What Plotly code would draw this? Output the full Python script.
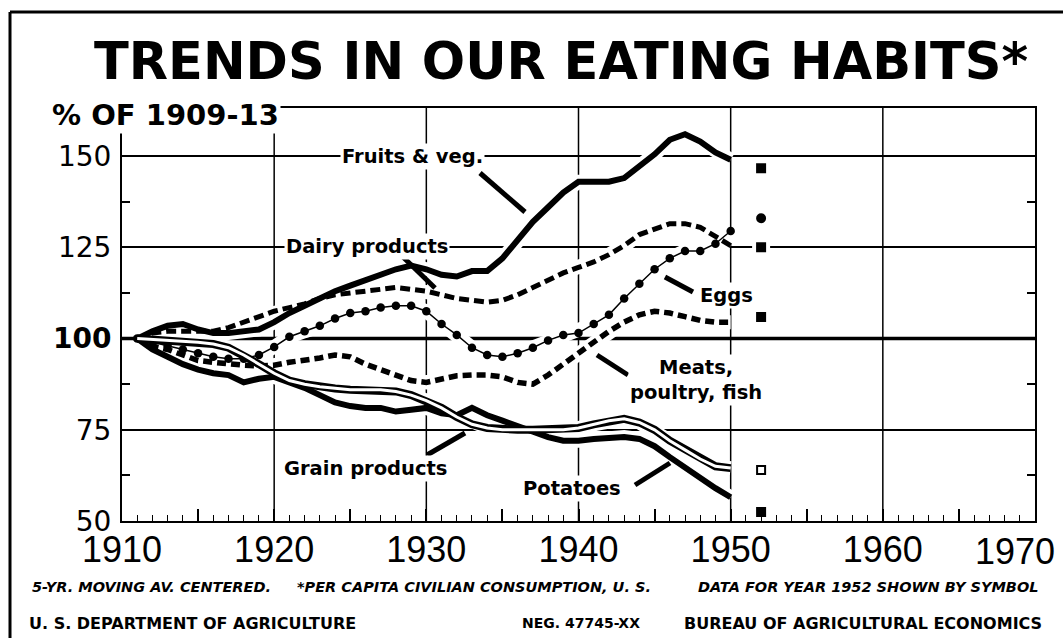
import plotly.graph_objects as go

years = list(range(1911, 1951))

fruits_veg = [100, 102, 103.5, 104, 102.5, 101.5, 101.5, 102, 102.5, 104.5,
              107, 109, 111, 113, 114.5, 116, 117.5, 119, 120, 119,
              117.5, 117, 118.5, 118.5, 122, 127, 132, 136, 140, 143,
              143, 143, 144, 147, 150.5, 154.5, 156, 154, 151, 149]

dairy = [100, 101.5, 102, 102, 102, 102, 103, 104.5, 106, 107.5,
         108.5, 109.5, 111, 112, 112.5, 113, 113.5, 114, 113.5, 113,
         112, 111, 110.5, 110, 110.5, 112, 114, 116, 118, 119.5,
         121, 123, 125.5, 128.5, 130, 131.5, 131.5, 130.5, 128, 125.5]

eggs = [100, 99, 98, 97, 96, 95, 94.5, 94.5, 95.5, 97.7,
        100.5, 102, 103.5, 105.5, 107, 107.5, 108.5, 109, 109, 107.5,
        104, 101, 97.5, 95.5, 95, 96, 97.5, 99.5, 101, 101.5,
        104, 106.5, 111, 115, 119, 122, 124, 124, 126, 129.5]

meats = [100, 98, 97, 95.5, 94, 93.5, 93, 92.7, 92.5, 92.7,
         93.5, 94, 94.7, 95.5, 95, 93, 91.5, 90, 88.5, 88,
         89, 89.8, 90, 90, 89.5, 88, 87.5, 90, 93, 96,
         99, 102, 104.5, 106.5, 107.5, 107, 106, 105, 104.5, 104.5]

grain = [100, 99.8, 99.5, 99.2, 99, 98.5, 97.5, 95.5, 93, 90.5,
         88.5, 87.5, 86.8, 86.3, 86, 86, 86, 85.5, 84.5, 83,
         81, 78.5, 76.5, 75.5, 75, 75, 75, 75, 75, 75.5,
         76.5, 77.5, 78, 77, 75, 72, 69.5, 67, 65, 64.5]

potatoes = [100, 97, 95, 93, 91.5, 90.5, 90, 88, 89, 89.5,
            88, 86.5, 84.5, 82.5, 81.5, 81, 81, 80, 80.5, 81,
            79.5, 79, 81, 79, 77.5, 76, 74.5, 73, 72, 72,
            72.5, 72.7, 73, 72.5, 70.5, 67.5, 64.5, 61.5, 59, 56.5]

# 1952 values shown by symbol
sym_year = 1952
sym_values = [146.7, 133, 125, 105.9, 64, 52.5]
sym_shapes = ["square", "circle", "square", "square", "square-open", "square"]

x_ticks = list(range(1910, 1971, 5))
x_ticktext = [str(v) if (v % 10 == 0 and v < 1970) else "" for v in x_ticks]
y_ticks = [50, 75, 100, 125, 150]
y_ticktext = ["50", "75", "<b>100</b>", "125", "150"]
decades = [1920, 1930, 1940, 1950, 1960]

# plot area in pixels
L, R, T, B = 122, 1035, 108, 521


def px(x):
    return (x - L) / (R - L)


def py(y):
    return (B - y) / (B - T)


fig = go.Figure()

series = [fruits_veg, dairy, eggs, meats, grain, potatoes]
# white halos that break the grid where curves cross
for s in series:
    fig.add_trace(go.Scatter(x=years, y=s, mode="lines",
                             line=dict(color="white", width=14),
                             hoverinfo="skip"))
fig.add_trace(go.Scatter(x=[sym_year] * len(sym_values), y=sym_values,
                         mode="markers",
                         marker=dict(color="white", size=18, symbol="square"),
                         hoverinfo="skip"))

fig.add_trace(go.Scatter(x=years, y=fruits_veg, mode="lines", name="Fruits & veg.",
                         line=dict(color="black", width=6)))
fig.add_trace(go.Scatter(x=years, y=dairy, mode="lines", name="Dairy products",
                         line=dict(color="black", width=5, dash="10px,5px")))
fig.add_trace(go.Scatter(x=years, y=meats, mode="lines", name="Meats, poultry, fish",
                         line=dict(color="black", width=5.5, dash="9px,5px")))
fig.add_trace(go.Scatter(x=years, y=eggs, mode="lines+markers", name="Eggs",
                         line=dict(color="black", width=1.5),
                         marker=dict(color="black", size=8.5, symbol="circle")))
fig.add_trace(go.Scatter(x=years, y=potatoes, mode="lines", name="Potatoes",
                         line=dict(color="black", width=6)))
fig.add_trace(go.Scatter(x=years, y=grain, mode="lines", name="Grain products",
                         line=dict(color="black", width=8)))
fig.add_trace(go.Scatter(x=years, y=grain, mode="lines", name="Grain products",
                         line=dict(color="white", width=3), hoverinfo="skip"))
fig.add_trace(go.Scatter(x=[sym_year] * len(sym_values), y=sym_values,
                         mode="markers",
                         marker=dict(color="black", size=8, symbol=sym_shapes,
                                     line=dict(color="black", width=2))))

shapes = []
for d in decades:
    shapes.append(dict(type="line", xref="x", yref="paper", x0=d, x1=d, y0=0, y1=1,
                       line=dict(color="black", width=1.5), layer="below"))
shapes.append(dict(type="line", xref="paper", yref="y", x0=0, x1=1, y0=100, y1=100,
                   line=dict(color="black", width=3.5), layer="below"))

# label pointers (pixel positions)
pointers = [((480, 173), (525, 212)), ((403, 257), (435, 288)),
            ((665, 277), (693, 292)), ((597, 355), (628, 375)),
            ((427, 455), (465, 433)), ((635, 485), (670, 463))]
for (a, b) in pointers:
    shapes.append(dict(type="line", xref="paper", yref="paper",
                       x0=px(a[0]), y0=py(a[1]), x1=px(b[0]), y1=py(b[1]),
                       line=dict(color="black", width=5)))

# frame of the sheet
shapes.append(dict(type="line", xref="paper", yref="paper",
                   x0=px(10), x1=px(10), y0=py(12), y1=py(638),
                   line=dict(color="black", width=3)))
shapes.append(dict(type="line", xref="paper", yref="paper",
                   x0=px(10), x1=px(1063), y0=py(12), y1=py(12),
                   line=dict(color="black", width=3)))

LABEL_FONT = dict(family="DejaVu Sans", size=19.5, color="black")
NOTE_FONT = dict(family="DejaVu Sans", size=14.5, color="black")
annotations = [
    dict(text="<b>TRENDS IN OUR EATING HABITS*</b>", x=px(561), y=py(62),
         font=dict(family="DejaVu Sans", size=51, color="black")),
    dict(text="<b>% OF 1909-13</b>", x=px(50), y=py(115), xanchor="left",
         bgcolor="white", font=dict(family="DejaVu Sans", size=29, color="black")),
    dict(text="1970", x=px(1015), y=py(551),
         font=dict(family="Liberation Sans", size=36, color="black")),
    dict(text="<b>Fruits & veg.</b>", x=px(412), y=py(156), bgcolor="white", font=LABEL_FONT),
    dict(text="<b>Dairy products</b>", x=px(367), y=py(247), bgcolor="white", font=LABEL_FONT),
    dict(text="<b>Eggs</b>", x=px(726), y=py(295), bgcolor="white", font=LABEL_FONT),
    dict(text="<b>Meats,<br>poultry, fish</b>", x=px(696), y=py(380), bgcolor="white",
         font=LABEL_FONT),
    dict(text="<b>Grain products</b>", x=px(365), y=py(468), bgcolor="white", font=LABEL_FONT),
    dict(text="<b>Potatoes</b>", x=px(572), y=py(488), bgcolor="white", font=LABEL_FONT),
    dict(text="<b><i>5-YR. MOVING AV. CENTERED.</i></b>", x=px(30), y=py(587),
         xanchor="left", font=NOTE_FONT),
    dict(text="<b><i>*PER CAPITA CIVILIAN CONSUMPTION, U. S.</i></b>", x=px(295), y=py(587),
         xanchor="left", font=NOTE_FONT),
    dict(text="<b><i>DATA FOR YEAR 1952 SHOWN BY SYMBOL</i></b>", x=px(1040), y=py(587),
         xanchor="right", font=NOTE_FONT),
    dict(text="<b>U. S. DEPARTMENT OF AGRICULTURE</b>", x=px(27), y=py(623),
         xanchor="left", font=dict(family="DejaVu Sans", size=16, color="black")),
    dict(text="<b>NEG. 47745-XX</b>", x=px(520), y=py(623),
         xanchor="left", font=dict(family="DejaVu Sans", size=14, color="black")),
    dict(text="<b>BUREAU OF AGRICULTURAL ECONOMICS</b>", x=px(1044), y=py(623),
         xanchor="right", font=dict(family="DejaVu Sans", size=16, color="black")),
]
for a in annotations:
    a.update(xref="paper", yref="paper", showarrow=False)
    a.setdefault("xanchor", "center")
    a.setdefault("yanchor", "middle")
    a.setdefault("borderpad", 1)

fig.update_layout(
    width=1063, height=638,
    margin=dict(l=L, r=1063 - R, t=T, b=638 - B),
    paper_bgcolor="white", plot_bgcolor="white",
    showlegend=False,
    shapes=shapes, annotations=annotations,
    xaxis=dict(range=[1910, 1970], tickvals=x_ticks, ticktext=x_ticktext,
               ticks="inside", ticklen=12, tickwidth=1.5, tickcolor="black",
               minor=dict(dtick=1, tick0=1910, ticks="inside", ticklen=6,
                          tickwidth=1.2, tickcolor="black", showgrid=False),
               showgrid=False, zeroline=False,
               showline=True, linewidth=2, linecolor="black", mirror=True,
               tickfont=dict(family="Liberation Sans", size=36, color="black"),
               ticklabelstandoff=-4),
    yaxis=dict(range=[50, 163.2], tickvals=y_ticks, ticktext=y_ticktext,
               ticks="inside", ticklen=8, tickwidth=1.5, tickcolor="black",
               minor=dict(tickvals=[62.5, 87.5, 112.5, 137.5], ticks="inside",
                          ticklen=8, tickwidth=1.5, tickcolor="black", showgrid=False),
               showgrid=True, gridcolor="black", gridwidth=1.5, zeroline=False,
               showline=True, linewidth=2, linecolor="black", mirror="ticks",
               tickfont=dict(family="DejaVu Sans", size=28, color="black"),
               ticklabelstandoff=3),
)

fig.write_html("out.html", config={"displayModeBar": False},
               post_script="document.body.style.margin='0';")
